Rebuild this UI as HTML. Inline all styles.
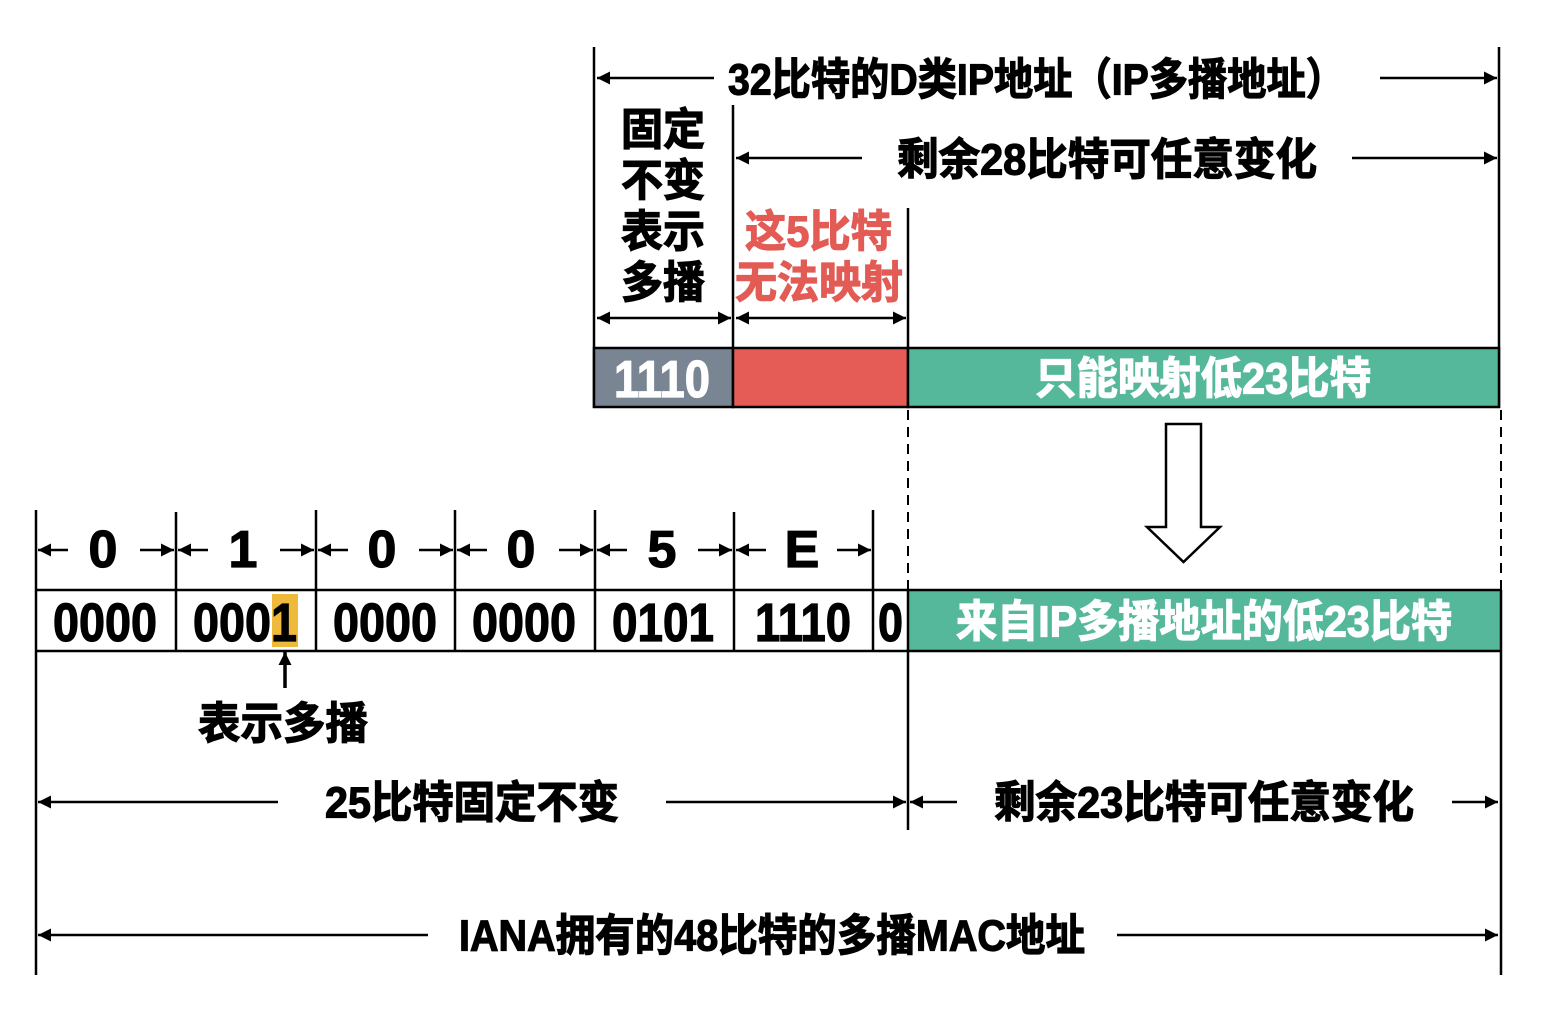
<!DOCTYPE html>
<html><head><meta charset="utf-8"><style>
html,body{margin:0;padding:0;background:#fff;}
svg{display:block}
text{font-family:"Liberation Sans","Noto Sans CJK SC",sans-serif;font-weight:bold;dominant-baseline:central;}
.h{stroke:#000;stroke-width:1.2px;}
.w{stroke:#fff;stroke-width:1.2px;}
.r{stroke:#e25b55;stroke-width:1.2px;}
</style></head><body>
<svg width="1544" height="1020" viewBox="0 0 1544 1020" xmlns="http://www.w3.org/2000/svg">
<defs>
<marker id="a" viewBox="0 0 10 10" refX="10" refY="5" markerWidth="13" markerHeight="13" markerUnits="userSpaceOnUse" orient="auto-start-reverse"><path d="M0,0 L10,5 L0,10 z" fill="#000"/></marker>
</defs>
<g stroke="#000" stroke-width="2.5" fill="none">
<line x1="594" y1="47" x2="594" y2="408"/>
<line x1="1499" y1="47" x2="1499" y2="408"/>
<line x1="733" y1="105" x2="733" y2="408"/>
<line x1="908" y1="208" x2="908" y2="408"/>
<line x1="714" y1="78" x2="597" y2="78" marker-end="url(#a)"/>
<line x1="1380" y1="78" x2="1497" y2="78" marker-end="url(#a)"/>
<line x1="862" y1="158" x2="736" y2="158" marker-end="url(#a)"/>
<line x1="1352" y1="158" x2="1497" y2="158" marker-end="url(#a)"/>
<line x1="597" y1="318" x2="731" y2="318" marker-start="url(#a)" marker-end="url(#a)"/>
<line x1="736" y1="318" x2="906" y2="318" marker-start="url(#a)" marker-end="url(#a)"/>
</g>
<rect x="594" y="348" width="139" height="59" fill="#7a8594" stroke="#000" stroke-width="2.5"/>
<rect x="733" y="348" width="175" height="59" fill="#e45c55" stroke="#000" stroke-width="2.5"/>
<rect x="908" y="348" width="591" height="59" fill="#55b89b" stroke="#000" stroke-width="2.5"/>
<text class="h" x="728" y="80" font-size="44" textLength="617" lengthAdjust="spacingAndGlyphs">32比特的D类IP地址（IP多播地址）</text>
<text class="h" x="897" y="160" font-size="44" textLength="420" lengthAdjust="spacingAndGlyphs">剩余28比特可任意变化</text>
<g font-size="44">
<text class="h" x="621" y="130" textLength="84" lengthAdjust="spacingAndGlyphs">固定</text>
<text class="h" x="621" y="181" textLength="84" lengthAdjust="spacingAndGlyphs">不变</text>
<text class="h" x="621" y="232" textLength="84" lengthAdjust="spacingAndGlyphs">表示</text>
<text class="h" x="621" y="283" textLength="84" lengthAdjust="spacingAndGlyphs">多播</text>
<text class="r" x="745" y="232" fill="#e25b55" textLength="147" lengthAdjust="spacingAndGlyphs">这5比特</text>
<text class="r" x="735" y="283" fill="#e25b55" textLength="168" lengthAdjust="spacingAndGlyphs">无法映射</text>
</g>
<text class="w" x="614" y="380" font-size="52" fill="#fff" textLength="96" lengthAdjust="spacingAndGlyphs">1110</text>
<text class="w" x="1035" y="379" font-size="44" fill="#fff" textLength="336" lengthAdjust="spacingAndGlyphs">只能映射低23比特</text>
<g stroke="#000" stroke-width="2" stroke-dasharray="10,7">
<line x1="908" y1="410" x2="908" y2="590"/>
<line x1="1501" y1="410" x2="1501" y2="590"/>
</g>
<path d="M1166,424 H1201 V527 H1220 L1183.5,562 L1147,527 H1166 Z" fill="#fff" stroke="#000" stroke-width="2.5"/>
<rect x="908" y="590" width="593" height="61" fill="#55b89b"/>
<rect x="272" y="594" width="26" height="53" fill="#efb93c"/>
<g stroke="#000" stroke-width="2.5" fill="none">
<line x1="36" y1="590" x2="1501" y2="590"/>
<line x1="36" y1="651" x2="1501" y2="651"/>
<line x1="36" y1="510" x2="36" y2="975"/>
<line x1="176" y1="512" x2="176" y2="651"/>
<line x1="316" y1="510" x2="316" y2="651"/>
<line x1="455" y1="510" x2="455" y2="651"/>
<line x1="595" y1="510" x2="595" y2="651"/>
<line x1="734" y1="512" x2="734" y2="651"/>
<line x1="873" y1="510" x2="873" y2="651"/>
<line x1="908" y1="590" x2="908" y2="830"/>
<line x1="1501" y1="590" x2="1501" y2="975"/>
<line x1="285" y1="688" x2="285" y2="652" stroke-width="3.5" marker-end="url(#a)"/>
<line x1="278" y1="802" x2="38" y2="802" marker-end="url(#a)"/>
<line x1="666" y1="802" x2="906" y2="802" marker-end="url(#a)"/>
<line x1="957" y1="802" x2="910" y2="802" marker-end="url(#a)"/>
<line x1="1452" y1="802" x2="1498" y2="802" marker-end="url(#a)"/>
<line x1="428" y1="935" x2="38" y2="935" marker-end="url(#a)"/>
<line x1="1117" y1="935" x2="1498" y2="935" marker-end="url(#a)"/>
</g>
<g stroke="#000" stroke-width="2.5">
<line x1="68" y1="550" x2="38" y2="550" marker-end="url(#a)"/><line x1="140" y1="550" x2="174" y2="550" marker-end="url(#a)"/>
<line x1="208" y1="550" x2="178" y2="550" marker-end="url(#a)"/><line x1="280" y1="550" x2="314" y2="550" marker-end="url(#a)"/>
<line x1="348" y1="550" x2="318" y2="550" marker-end="url(#a)"/><line x1="419" y1="550" x2="453" y2="550" marker-end="url(#a)"/>
<line x1="487" y1="550" x2="457" y2="550" marker-end="url(#a)"/><line x1="559" y1="550" x2="593" y2="550" marker-end="url(#a)"/>
<line x1="627" y1="550" x2="597" y2="550" marker-end="url(#a)"/><line x1="698" y1="550" x2="732" y2="550" marker-end="url(#a)"/>
<line x1="766" y1="550" x2="736" y2="550" marker-end="url(#a)"/><line x1="837" y1="550" x2="871" y2="550" marker-end="url(#a)"/>
</g>
<g font-size="52" text-anchor="middle">
<text class="h" x="103" y="550">0</text><text class="h" x="243" y="550">1</text><text class="h" x="382" y="550">0</text>
<text class="h" x="521" y="550">0</text><text class="h" x="662" y="550">5</text><text class="h" x="802" y="550">E</text>
</g>
<g font-size="54">
<text class="h" x="53" y="623" textLength="104" lengthAdjust="spacingAndGlyphs">0000</text>
<text class="h" x="193" y="623" textLength="104" lengthAdjust="spacingAndGlyphs">0001</text>
<text class="h" x="333" y="623" textLength="104" lengthAdjust="spacingAndGlyphs">0000</text>
<text class="h" x="472" y="623" textLength="104" lengthAdjust="spacingAndGlyphs">0000</text>
<text class="h" x="612" y="623" textLength="102" lengthAdjust="spacingAndGlyphs">0101</text>
<text class="h" x="755" y="623" textLength="96" lengthAdjust="spacingAndGlyphs">1110</text>
<text class="h" x="878" y="623" textLength="25" lengthAdjust="spacingAndGlyphs">0</text>
</g>
<text class="w" x="956" y="622" font-size="44" fill="#fff" textLength="496" lengthAdjust="spacingAndGlyphs">来自IP多播地址的低23比特</text>
<text class="h" x="198" y="724" font-size="44" textLength="170" lengthAdjust="spacingAndGlyphs">表示多播</text>
<text class="h" x="325" y="803" font-size="44" textLength="294" lengthAdjust="spacingAndGlyphs">25比特固定不变</text>
<text class="h" x="994" y="803" font-size="44" textLength="420" lengthAdjust="spacingAndGlyphs">剩余23比特可任意变化</text>
<text class="h" x="459" y="936" font-size="44" textLength="626" lengthAdjust="spacingAndGlyphs">IANA拥有的48比特的多播MAC地址</text>
</svg>
</body></html>
